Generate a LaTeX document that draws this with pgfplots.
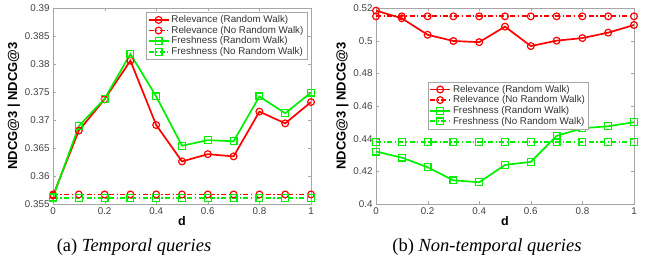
\documentclass[border=0pt]{standalone}
\usepackage{pgfplots}
\pgfplotsset{compat=1.18}
\usepackage{fontspec}
\setmainfont{Liberation Serif}
\newfontfamily\arial{Liberation Sans}
\definecolor{mred}{RGB}{255,0,0}
\definecolor{mgreen}{RGB}{0,240,0}
\begin{document}
\begin{tikzpicture}
\path[use as bounding box] (0pt,0pt) rectangle (651pt,266pt);
\pgfplotsset{
  mystyle/.style={
    scale only axis, width=258pt, height=196pt,
    xmin=0, xmax=1,
    xtick={0,0.2,0.4,0.6,0.8,1},
    xticklabels={0,0.2,0.4,0.6,0.8,1},
    tick align=inside, major tick length=3pt,
    axis line style={gray!70}, tick style={gray!70},
    ticklabel style={font=\arial\fontsize{9.8}{11}\selectfont, text=black!75},
    /pgf/number format/assume math mode=true,
    xlabel={\arial\bfseries\fontsize{12.5}{13}\selectfont d},
    ylabel={\arial\bfseries\fontsize{13}{14}\selectfont NDCG@3 | NDCG@3},
    xlabel style={yshift=5pt},
    ylabel style={yshift=-2pt},
    legend style={font=\arial\fontsize{9.8}{11}\selectfont, draw=gray!70, inner sep=1.5pt, row sep=-2pt, text=black!80},
    legend cell align=left,
    legend image code/.code={
      \draw[mark repeat=2,mark phase=2,#1] plot coordinates {(0pt,0pt) (10pt,0pt) (20pt,0pt)};
    },
    every axis plot/.append style={line width=1.7pt, mark size=3.4pt, mark options={solid, line width=1.2pt}},
    dd/.style={dash pattern=on 5pt off 2.5pt on 1.2pt off 2.5pt},
  }
}
\begin{axis}[mystyle, at={(53pt,62pt)}, anchor=south west,
  ymin=0.355, ymax=0.39,
  ytick={0.355,0.36,0.365,0.37,0.375,0.38,0.385,0.39},
  yticklabels={0.355,0.36,0.365,0.37,0.375,0.38,0.385,0.39},
  legend style={at={(0.985,0.98)}, anchor=north east},
]
\addplot[mred, mark=o] coordinates {(0,0.3565)(0.1,0.3681)(0.2,0.3737)(0.3,0.3806)(0.4,0.3691)(0.5,0.3626)(0.6,0.3639)(0.7,0.3635)(0.8,0.3715)(0.9,0.3694)(1,0.3732)};
\addlegendentry{Relevance (Random Walk)}
\addplot[mred, mark=o, dd] coordinates {(0,0.3567)(0.1,0.3567)(0.2,0.3567)(0.3,0.3567)(0.4,0.3567)(0.5,0.3567)(0.6,0.3567)(0.7,0.3567)(0.8,0.3567)(0.9,0.3567)(1,0.3567)};
\addlegendentry{Relevance (No Random Walk)}
\addplot[mgreen, mark=square] coordinates {(0,0.3562)(0.1,0.3689)(0.2,0.3738)(0.3,0.3818)(0.4,0.3742)(0.5,0.3654)(0.6,0.3664)(0.7,0.3662)(0.8,0.3742)(0.9,0.3712)(1,0.3749)};
\addlegendentry{Freshness (Random Walk)}
\addplot[mgreen, mark=square, dd] coordinates {(0,0.3561)(0.1,0.3561)(0.2,0.3561)(0.3,0.3561)(0.4,0.3561)(0.5,0.3561)(0.6,0.3561)(0.7,0.3561)(0.8,0.3561)(0.9,0.3561)(1,0.3561)};
\addlegendentry{Freshness (No Random Walk)}
\end{axis}
\begin{axis}[mystyle, at={(376pt,62pt)}, anchor=south west,
  ymin=0.4, ymax=0.52,
  ytick={0.4,0.42,0.44,0.46,0.48,0.5,0.52},
  yticklabels={0.4,0.42,0.44,0.46,0.48,0.5,0.52},
  legend style={at={(0.2,0.625)}, anchor=north west},
]
\addplot[mred, mark=o] coordinates {(0,0.5184)(0.1,0.5137)(0.2,0.5036)(0.3,0.4998)(0.4,0.4991)(0.5,0.5086)(0.6,0.4967)(0.7,0.5000)(0.8,0.5016)(0.9,0.5049)(1,0.5096)};
\addlegendentry{Relevance (Random Walk)}
\addplot[mred, mark=o, dd] coordinates {(0,0.5149)(0.1,0.5149)(0.2,0.5149)(0.3,0.5149)(0.4,0.5149)(0.5,0.5149)(0.6,0.5149)(0.7,0.5149)(0.8,0.5149)(0.9,0.5149)(1,0.5149)};
\addlegendentry{Relevance (No Random Walk)}
\addplot[mgreen, mark=square] coordinates {(0,0.4321)(0.1,0.4284)(0.2,0.4225)(0.3,0.4145)(0.4,0.4133)(0.5,0.4239)(0.6,0.4258)(0.7,0.4417)(0.8,0.4464)(0.9,0.4476)(1,0.4501)};
\addlegendentry{Freshness (Random Walk)}
\addplot[mgreen, mark=square, dd] coordinates {(0,0.4378)(0.1,0.4378)(0.2,0.4378)(0.3,0.4378)(0.4,0.4378)(0.5,0.4378)(0.6,0.4378)(0.7,0.4378)(0.8,0.4378)(0.9,0.4378)(1,0.4378)};
\addlegendentry{Freshness (No Random Walk)}
\end{axis}
\node[font=\fontsize{18.5}{21}\selectfont, anchor=base] at (134pt,15pt) {(a) \textit{Temporal queries}};
\node[font=\fontsize{18.5}{21}\selectfont, anchor=base] at (487pt,15pt) {(b) \textit{Non-temporal queries}};
\end{tikzpicture}
\end{document}
